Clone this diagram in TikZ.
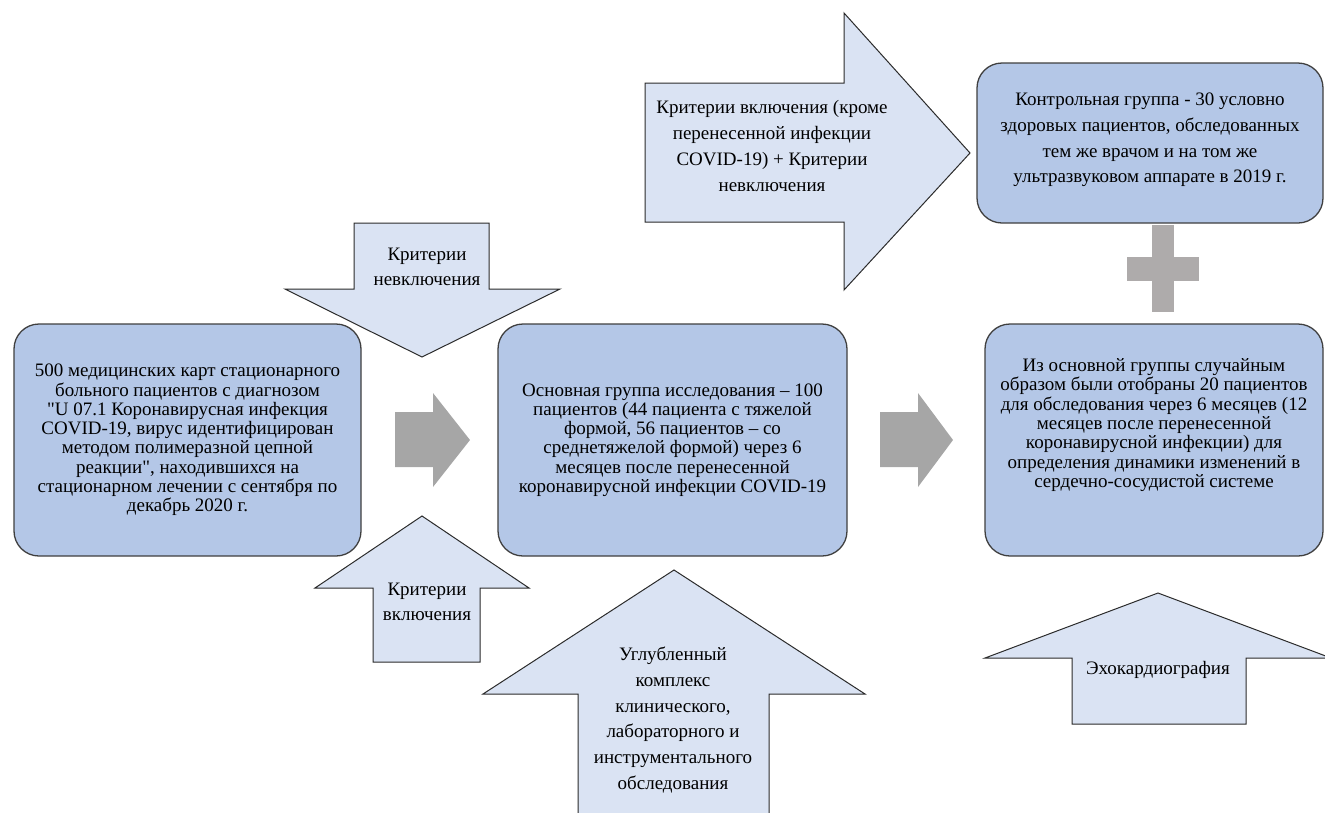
\documentclass[tikz,border=0pt]{standalone}
\usepackage{fontspec}
\newfontfamily\trm{Liberation Serif}
\definecolor{boxfill}{HTML}{B4C7E7}
\definecolor{boxline}{HTML}{3F3F3F}
\definecolor{arrfill}{HTML}{DAE3F3}
\definecolor{arrline}{HTML}{2B2B2B}
\definecolor{grayarr}{HTML}{A6A6A6}
\definecolor{plusgray}{HTML}{AEABAB}
\tikzset{
  stagebox/.style={draw=boxline, fill=boxfill, line width=1.3pt, rounded corners=25pt, inner sep=0pt},
  blockarrow/.style={draw=arrline, fill=arrfill, line width=1pt},
  grayblock/.style={fill=grayarr, draw=none},
  plusbar/.style={fill=plusgray, draw=none},
  boxtext/.style={align=center, font=\trm\fontsize{19}{19.3}\selectfont, inner sep=0pt},
  arrtext/.style={align=center, font=\trm\fontsize{19}{25.7}\selectfont, inner sep=0pt},
}
\begin{document}
\begin{tikzpicture}[x=1pt,y=-1pt]
\useasboundingbox (0,0) rectangle (1325,812);
\clip (0,0) rectangle (1325,812);

% stage boxes
\node[stagebox, minimum width=347pt, minimum height=232pt] (b1) at (187.5,440) {};
\node[stagebox, minimum width=349pt, minimum height=232pt] (b2) at (672.5,440) {};
\node[stagebox, minimum width=338pt, minimum height=232pt] (b3) at (1154,440) {};
\node[stagebox, minimum width=346pt, minimum height=160pt] (ctrl) at (1150,143) {};

\node[boxtext] (t1) at (b1.center) {500 медицинских карт стационарного\\больного пациентов с диагнозом\\"U 07.1 Коронавирусная инфекция\\COVID-19, вирус идентифицирован\\методом полимеразной цепной\\реакции", находившихся на\\стационарном лечении с сентября по\\декабрь 2020 г.};
\node[boxtext] (t2) at (b2.center) {Основная группа исследования – 100\\пациентов (44 пациента с тяжелой\\формой, 56 пациентов – со\\среднетяжелой формой) через 6\\месяцев после перенесенной\\коронавирусной инфекции COVID-19};
\node[boxtext] (t3) at (b3.center) [yshift=15pt] {Из основной группы случайным\\образом были отобраны 20 пациентов\\для обследования через 6 месяцев (12\\месяцев после перенесенной\\коронавирусной инфекции) для\\определения динамики изменений в\\сердечно-сосудистой системе};
\node[arrtext] (tc) at (ctrl.center) [yshift=3pt] {Контрольная группа - 30 условно\\здоровых пациентов, обследованных\\тем же врачом и на том же\\ультразвуковом аппарате в 2019 г.};

% gray arrows between boxes
\draw[grayblock] (395,412) -- (433,412) -- (433,393) -- (470,440) -- (433,487) -- (433,467) -- (395,467) -- cycle;
\draw[grayblock] (880,412) -- (918,412) -- (918,393) -- (953,440) -- (918,487) -- (918,467) -- (880,467) -- cycle;

% plus
\fill[plusbar] (1152,225) rectangle (1174,312);
\fill[plusbar] (1127,257) rectangle (1199,281);

% top right arrow
\draw[blockarrow] (645,83) -- (844,83) -- (844,13) -- (970,153) -- (844,290) -- (844,222) -- (645,222) -- cycle;
\node[arrtext] (ta) at (772,146) {Критерии включения (кроме\\перенесенной инфекции\\COVID-19) + Критерии\\невключения};

% down arrow: exclusion
\draw[blockarrow] (354,223) -- (489,223) -- (489,289) -- (560,289) -- (422,357) -- (285,289) -- (354,289) -- cycle;
\node[arrtext] (tn) at (427,267) {Критерии\\невключения};

% up arrow: inclusion
\draw[blockarrow] (373,662) -- (373,588) -- (315,588) -- (422,516) -- (529,588) -- (480,588) -- (480,662) -- cycle;
\node[arrtext] (tv) at (427,602) {Критерии\\включения};

% big up arrow
\draw[blockarrow] (578,830) -- (578,694) -- (483,694) -- (674,570) -- (865,694) -- (769,694) -- (769,830);
\node[arrtext] (tb) at (673,720) {Углубленный\\комплекс\\клинического,\\лабораторного и\\инструментального\\обследования};

% echo arrow
\draw[blockarrow] (1072,724) -- (1072,658) -- (985,658) -- (1158,593) -- (1331,658) -- (1246,658) -- (1246,724) -- cycle;
\node[arrtext] (te) at (1158,670) {Эхокардиография};
\end{tikzpicture}
\end{document}
